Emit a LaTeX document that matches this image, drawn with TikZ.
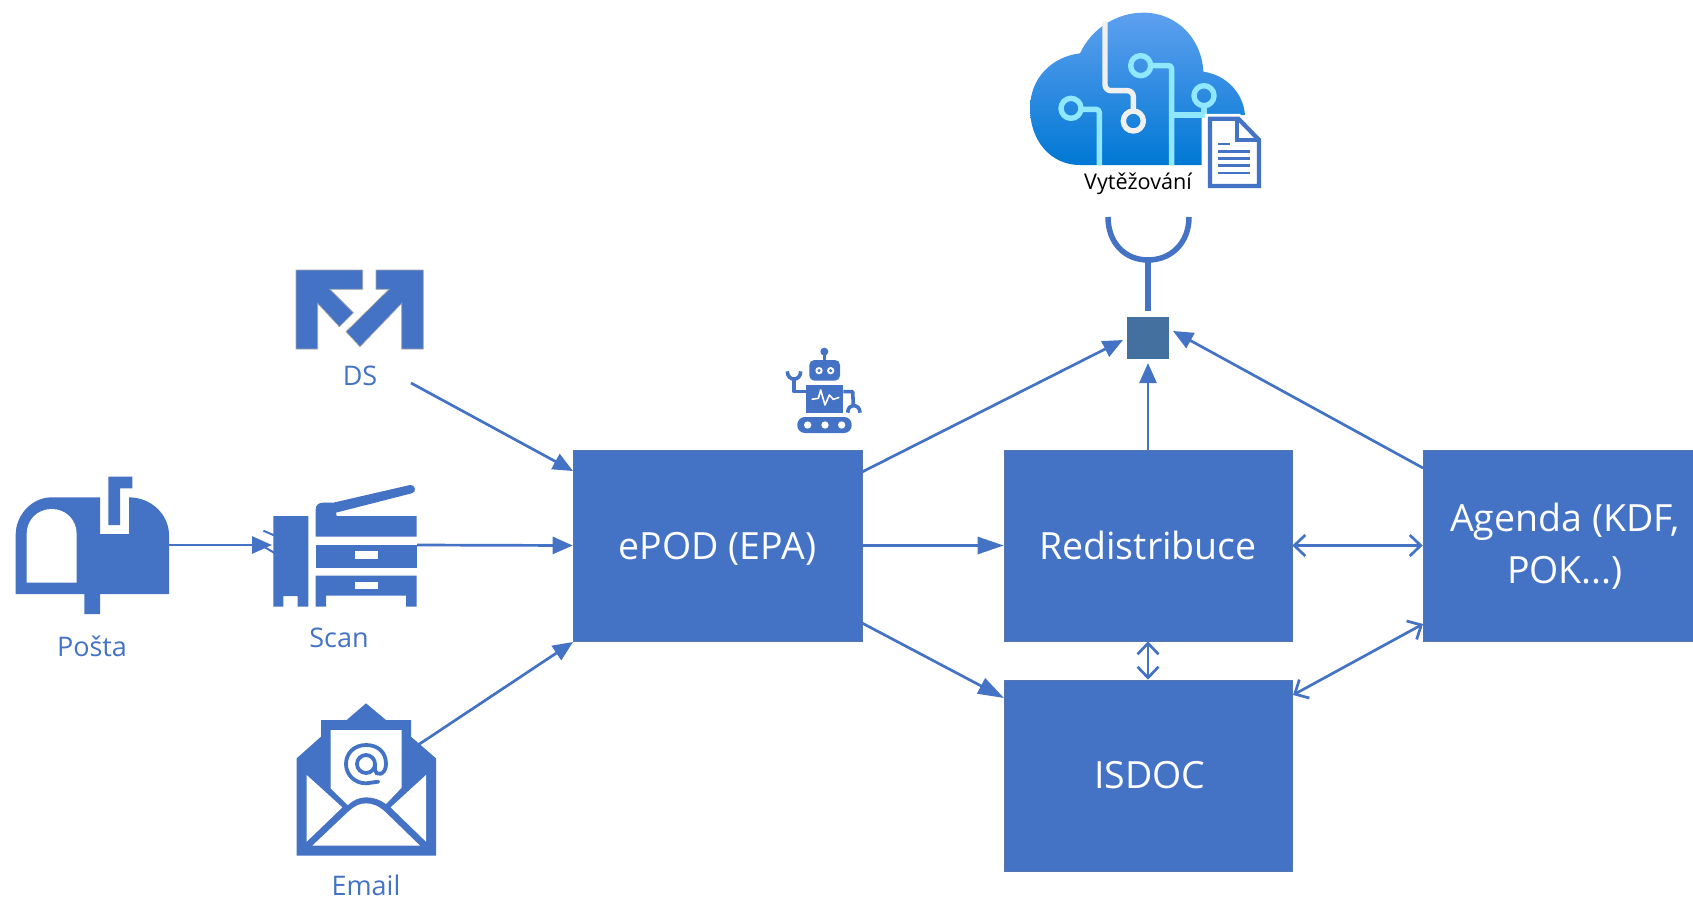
\documentclass[tikz,border=0pt]{standalone}
\usepackage{fontspec}
\setmainfont{Open Sans}
\usetikzlibrary{arrows.meta}
\definecolor{bl}{HTML}{4472C4}
\definecolor{sq}{HTML}{44709F}
\definecolor{cyn}{HTML}{8FE8FF}
\definecolor{wht}{HTML}{F0F0F0}
\definecolor{ctop}{HTML}{5EA0EF}
\definecolor{cbot}{HTML}{0078D4}
\tikzset{
  box/.style={fill=bl,draw=bl!70!gray,line width=.6pt,inner sep=0pt,text=white,align=center,font=\fontsize{37.5}{52}\selectfont},
  lbl/.style={text=bl,inner sep=0pt,font=\fontsize{27}{30}\selectfont},
  flow/.style={draw=bl,line width=2.7pt,-{Triangle[length=20pt,width=17pt]}},
  bigflow/.style={draw=bl,line width=2.7pt,-{Triangle[length=26pt,width=17pt]}},
  both/.style={draw=bl,line width=2.7pt,{Straight Barb[length=11pt,width=21pt,line width=2.7pt]}-{Straight Barb[length=11pt,width=21pt,line width=2.7pt]}},
  icon/.style={fill=bl,draw=none},
  hole/.style={fill=white,draw=none},
  circ/.style={line width=5.4pt,draw=cyn,line join=round},
  circw/.style={line width=5.4pt,draw=wht,line join=round}
}
\begin{document}
\begin{tikzpicture}[x=1pt,y=-1pt]
\useasboundingbox (0,0) rectangle (1693,900);
% boxes
\node[box,minimum width=289pt,minimum height=191pt] (epod) at (717.5,545.5) {\raisebox{0pt}[27pt][0pt]{ePOD (EPA)}};
\node[box,minimum width=288pt,minimum height=191pt] (redis) at (1148,545.5) {Redistribuce};
\node[box,minimum width=288pt,minimum height=191pt] (isdoc) at (1148,775.5) {\hspace*{4pt}ISDOC};
\node[box,minimum width=284pt,minimum height=191pt] (agenda) at (1565,545.5) {Agenda (KDF,\\\raisebox{0pt}[\height][4pt]{POK...)}};
\node[fill=sq,inner sep=0pt,minimum size=42pt] (hub) at (1148,338) {};
% connector ends
\coordinate (mailOut) at (168,545);
\coordinate (scanIn) at (272,545);
\coordinate (scanOut) at (417,545);
\coordinate (dsOut) at (411,383);
\coordinate (dsIn) at (573,471);
\coordinate (emailOut) at (418,745);
\coordinate (emailIn) at (573,642);
\coordinate (epodHub) at (862,472);
\coordinate (hubL) at (1123,340);
\coordinate (hubR) at (1173,331);
\coordinate (hubB) at (1148,363);
\coordinate (agHub) at (1423,468);
\coordinate (epodIs) at (862,623);
\coordinate (isIn) at (1004,698);
\coordinate (isAg) at (1293,695);
\coordinate (agIs) at (1423,624);
\coordinate (sockTop) at (1148,260);
\coordinate (sockBot) at (1148,311);
% connectors
\draw[flow] (mailOut) -- (scanIn);
\draw[flow] (scanOut) -- (epod.west);
\draw[flow] (dsOut) -- (dsIn);
\draw[flow] (emailOut) -- (emailIn);
\draw[flow] (epodHub) -- (hubL);
\draw[flow] (redis.north) -- (hubB);
\draw[flow] (agHub) -- (hubR);
\draw[bigflow] (epod.east) -- (redis.west);
\draw[bigflow] (epodIs) -- (isIn);
\draw[both] (redis.east) -- (agenda.west);
\draw[both] (redis.south) -- (isdoc.north);
\draw[both] (isAg) -- (agIs);
% socket
\draw[draw=bl,line width=5.5pt] (1108,217) .. controls (1108,243) and (1125,260) .. (1148,260) .. controls (1171,260) and (1189,243) .. (1189,217);
\draw[draw=bl,line width=5.5pt] (sockTop) -- (sockBot);
% labels
\node[lbl] (lposta) at (92,646) {Pošta};
\node[lbl] (lscan) at (339,638) {Scan};
\node[lbl] (lds) at (360,376) {DS};
\node[lbl] (lemail) at (366,885.5) {Email};
\node[inner sep=0pt,text=black,font=\fontsize{21.6}{24}\selectfont] (lvyt) at (1138,184) {Vytěžování};
% mailbox
\begin{scope}[shift={(0,460)},scale=1/3]
\fill[icon] (47,402) -- (47,225) .. controls (47,165) and (95,112) .. (155,112) -- (300,112) -- (300,222) -- (387,222) -- (387,112) .. controls (455,112) and (507,165) .. (507,225) -- (507,402) -- (300,402) -- (300,462) -- (253,462) -- (253,402) -- cycle;
\fill[hole] (80,368) -- (80,222) .. controls (80,180) and (112,147) .. (155,147) .. controls (198,147) and (230,180) .. (230,222) -- (230,368) -- cycle;
\fill[icon] (325,50) -- (397,50) -- (397,85) -- (360,85) -- (360,195) -- (325,195) -- cycle;
% printer
\draw[draw=bl,line width=2pt] (790,212) -- (822,226);
\draw[draw=bl,line width=2pt] (795,262) -- (822,278);
\fill[icon] (820,168) -- (925,168) -- (925,440) -- (893,440) -- (893,408) -- (850,408) -- (850,440) -- (820,440) -- cycle;
\fill[icon] (947,230) -- (947,150) .. controls (947,135) and (955,128) .. (970,128) -- (1000,128) -- (1230,75) .. controls (1245,72) and (1252,97) .. (1235,100) -- (1008,158) -- (1010,168) -- (1250,168) -- (1250,230) -- cycle;
\fill[icon] (947,255) rectangle (1250,325);
\fill[hole] (1065,273) rectangle (1135,296);
\fill[icon] (947,347) -- (1250,347) -- (1250,440) -- (1218,440) -- (1218,407) -- (978,407) -- (978,440) -- (947,440) -- cycle;
\fill[hole] (1065,367) rectangle (1135,388);
\end{scope}
% DS icon
\begin{scope}[shift={(280,250)},scale=1/3]
\filldraw[icon,draw=gray!70,line width=.7pt] (48,60) -- (248,60) -- (248,118) -- (150,118) -- (220,188) -- (178,230) -- (113,160) -- (113,297) -- (48,297) -- cycle;
\filldraw[icon,draw=gray!70,line width=.7pt] (288,60) -- (430,60) -- (430,297) -- (365,297) -- (365,160) -- (240,290) -- (198,245) -- (327,118) -- (288,118) -- cycle;
\end{scope}
% email icon
\begin{scope}[shift={(280,690)},scale=1/3]
\fill[icon] (50,205) -- (123,140) -- (123,90) -- (200,90) -- (258,40) -- (318,90) -- (393,90) -- (393,140) -- (468,205) -- (468,497) -- (50,497) -- cycle;
\fill[hole] (152,120) -- (365,120) -- (365,293) -- (318,342) .. controls (300,328) and (280,322) .. (258,322) .. controls (236,322) and (220,330) .. (203,345) -- (152,295) -- cycle;
\fill[hole] (80,255) -- (187,352) -- (80,455) -- cycle;
\fill[hole] (438,255) -- (332,352) -- (438,455) -- cycle;
\fill[hole] (97,467) -- (205,365) .. controls (225,347) and (240,340) .. (258,340) .. controls (276,340) and (295,347) .. (315,365) -- (420,467) -- cycle;
\draw[draw=bl,line width=3.8pt] (258,222) circle[radius=27];
\draw[draw=bl,line width=3.8pt,line cap=round] (285,222) -- (285,240) .. controls (285,258) and (318,258) .. (318,222) .. controls (318,185) and (292,165) .. (258,165) .. controls (222,165) and (198,190) .. (198,222) .. controls (198,255) and (225,280) .. (258,280) -- (295,275);
\end{scope}
% robot
\begin{scope}[shift={(770,340)},scale=1/3]
\draw[draw=bl,line width=2.8pt] (163,35) -- (163,65);
\fill[icon] (163,35) circle[radius=12];
\fill[icon,rounded corners=5pt] (118,60) rectangle (210,122);
\fill[hole] (147,92) circle[radius=11];
\fill[hole] (182,92) circle[radius=11];
\fill[icon] (147,92) circle[radius=5];
\fill[icon] (182,92) circle[radius=5];
\fill[icon] (108,135) rectangle (220,220);
\draw[draw=white,line width=1.6pt,line join=round] (125,178) -- (145,175) -- (152,150) -- (165,195) -- (178,165) -- (190,178) -- (208,172);
\draw[draw=bl,line width=3.6pt,line join=round] (108,155) -- (72,155) -- (72,118);
\draw[draw=bl,line width=3.6pt] (52,94) .. controls (52,125) and (92,125) .. (92,94);
\draw[draw=bl,line width=3.6pt,line join=round] (220,155) -- (248,155) -- (250,195);
\draw[draw=bl,line width=3.6pt] (233,218) .. controls (233,190) and (270,190) .. (270,218);
\fill[icon,rounded corners=7.5pt] (82,231) rectangle (245,279);
\fill[hole] (113,255) circle[radius=11];
\fill[hole] (165,255) circle[radius=11];
\fill[hole] (215,255) circle[radius=11];
\end{scope}
% cloud
\begin{scope}[shift={(1000,0)},scale=1/3]
\shade[top color=ctop,bottom color=cbot] (240,495) .. controls (150,495) and (90,420) .. (90,325) .. controls (90,235) and (155,170) .. (240,160) .. controls (275,85) and (350,38) .. (430,38) .. controls (530,38) and (605,115) .. (610,215) .. controls (680,225) and (730,280) .. (735,345) -- (605,345) -- (605,495) -- cycle;
\draw[circw,rounded corners=6pt] (315,65) -- (315,272) -- (400,272) -- (400,332);
\draw[circw] (400,363) circle[radius=30];
\draw[circ] (422,197) circle[radius=30];
\draw[circ,rounded corners=3pt] (453,197) -- (515,197) -- (515,495);
\draw[circ] (213,325) circle[radius=30];
\draw[circ,rounded corners=3pt] (244,328) -- (298,328) -- (298,495);
\draw[circ] (612,287) circle[radius=30];
\draw[circ] (612,318) -- (612,345) -- (515,345);
% document
\filldraw[fill=white,draw=white,line width=7pt] (625,352) -- (715,352) -- (782,420) -- (782,563) -- (625,563) -- cycle;
\filldraw[fill=white,draw=bl,line width=4.3pt,line join=miter] (630,356) -- (715,356) -- (777,420) -- (777,558) -- (630,558) -- cycle;
\draw[draw=bl,line width=4.3pt] (712,356) -- (712,420) -- (777,420);
\draw[draw=bl,line width=2.5pt] (655,432) -- (690,432);
\draw[draw=bl,line width=2.5pt] (655,455) -- (750,455);
\draw[draw=bl,line width=2.5pt] (655,476) -- (750,476);
\draw[draw=bl,line width=2.5pt] (655,497) -- (750,497);
\draw[draw=bl,line width=2.5pt] (655,519) -- (750,519);
\end{scope}
\end{tikzpicture}
\end{document}
